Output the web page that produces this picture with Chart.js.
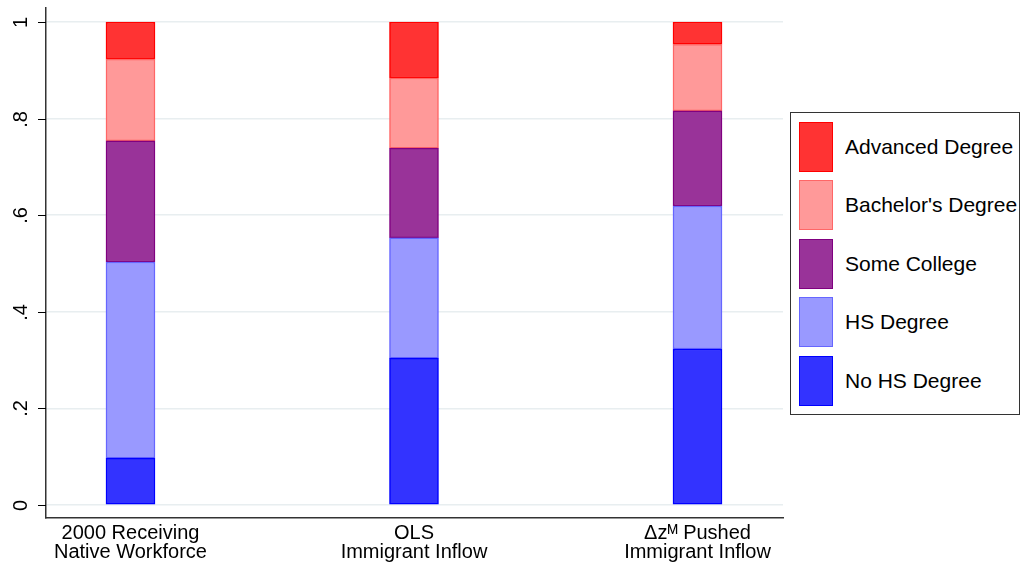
<!DOCTYPE html>
<html>
<head>
<meta charset="utf-8">
<script src="https://cdn.jsdelivr.net/npm/chart.js@4.4.1/dist/chart.umd.min.js"></script>
<style>
  html, body { margin: 0; padding: 0; background: #fff; }
  #wrap { position: relative; width: 1021px; height: 566px; }
  #legend {
    position: absolute; left: 790px; top: 112px; width: 230px; height: 303px;
    border: 1px solid #333; background: #fff; box-sizing: border-box;
    font-family: "Liberation Sans", Arial, sans-serif; font-size: 21px; color: #000;
  }
  .row { position: absolute; left: 8px; height: 51px; display: flex; align-items: center; }
  .sw { width: 32px; height: 48px; border: 1.5px solid; margin-right: 12px; }
</style>
</head>
<body>
<div id="wrap">
  <canvas id="chart" width="1021" height="566"></canvas>
  <div id="legend"></div>
</div>
<script>
// categories (x positions 0,1,2)
const categories = [
  ['2000 Receiving', 'Native Workforce'],
  ['OLS', 'Immigrant Inflow'],
  ['\u0394z\u1D39 Pushed', 'Immigrant Inflow']
];

// shares by education group, bottom to top
const noHS       = [0.097, 0.304, 0.323];
const hsDegree   = [0.406, 0.249, 0.296];
const someCol    = [0.251, 0.186, 0.197];
const bachelor   = [0.169, 0.145, 0.138];
const advanced   = [0.077, 0.116, 0.046];

const yTicks = [0, 0.2, 0.4, 0.6, 0.8, 1];
const yTickLabels = ['0', '.2', '.4', '.6', '.8', '1'];

const series = [
  { label: 'No HS Degree',      data: noHS,     fill: '#3333ff', line: '#0000ff' },
  { label: 'HS Degree',         data: hsDegree, fill: '#9999ff', line: '#6666ff' },
  { label: 'Some College',      data: someCol,  fill: '#993399', line: '#800080' },
  { label: "Bachelor's Degree", data: bachelor, fill: '#ff9999', line: '#ff6666' },
  { label: 'Advanced Degree',   data: advanced, fill: '#ff3333', line: '#ff0000' }
];

const FONT = '"Liberation Sans", Arial, sans-serif';

// draws rotated y tick labels, y tick marks and the two-line x labels
const axisLabelPlugin = {
  id: 'axisLabels',
  afterDraw(chart) {
    const ctx = chart.ctx;
    const x = chart.scales.x;
    const y = chart.scales.y;
    const area = chart.chartArea;
    ctx.save();
    ctx.strokeStyle = '#000';
    ctx.lineWidth = 1;
    ctx.fillStyle = '#000';
    ctx.font = '20px ' + FONT;
    ctx.textAlign = 'center';
    ctx.textBaseline = 'middle';
    yTicks.forEach((v, i) => {
      const py = Math.round(y.getPixelForValue(v)) + 0.5;
      ctx.beginPath();
      ctx.moveTo(area.left - 8, py);
      ctx.lineTo(area.left, py);
      ctx.stroke();
      ctx.save();
      ctx.translate(21, py);
      ctx.rotate(-Math.PI / 2);
      ctx.fillText(yTickLabels[i], 0, 0);
      ctx.restore();
    });
    ctx.textBaseline = 'alphabetic';
    categories.forEach((lines, i) => {
      const px = x.getPixelForValue(i);
      lines.forEach((t, j) => {
        ctx.fillText(t, px, area.bottom + 21 + j * 19);
      });
    });
    ctx.restore();
  }
};

new Chart(document.getElementById('chart'), {
  type: 'bar',
  data: {
    datasets: series.map(s => ({
      label: s.label,
      data: s.data.map((v, i) => ({ x: i, y: v })),
      backgroundColor: s.fill,
      borderColor: s.line,
      borderWidth: 1.5,
      borderSkipped: false,
      barThickness: 49
    }))
  },
  options: {
    responsive: false,
    animation: false,
    layout: { padding: { top: 8, right: 238, left: 0, bottom: 0 } },
    plugins: { legend: { display: false }, tooltip: { enabled: false } },
    scales: {
      x: {
        type: 'linear',
        stacked: true,
        offset: false,
        min: -0.298,
        max: 2.3016,
        afterBuildTicks: axis => { axis.ticks = [0, 1, 2].map(v => ({ value: v })); },
        afterFit: axis => { axis.height = 48; },
        grid: { display: false, drawTicks: false, offset: false },
        border: { display: true, color: '#333', width: 1.5 },
        ticks: { display: false }
      },
      y: {
        stacked: true,
        min: -0.027,
        max: 1.029,
        afterBuildTicks: axis => { axis.ticks = yTicks.map(v => ({ value: v })); },
        afterFit: axis => { axis.width = 46; },
        grid: { color: '#e8eef0', lineWidth: 1.5, drawTicks: false },
        border: { display: true, color: '#333', width: 1.5 },
        ticks: { display: false }
      }
    }
  },
  plugins: [axisLabelPlugin]
});

// legend box, top to bottom
const legend = document.getElementById('legend');
series.slice().reverse().forEach((s, i) => {
  const row = document.createElement('div');
  row.className = 'row';
  row.style.top = (8 + i * 58.5) + 'px';
  row.innerHTML = '<div class="sw" style="background:' + s.fill + ';border-color:' + s.line + '"></div><span>' + s.label + '</span>';
  legend.appendChild(row);
});
</script>
</body>
</html>
